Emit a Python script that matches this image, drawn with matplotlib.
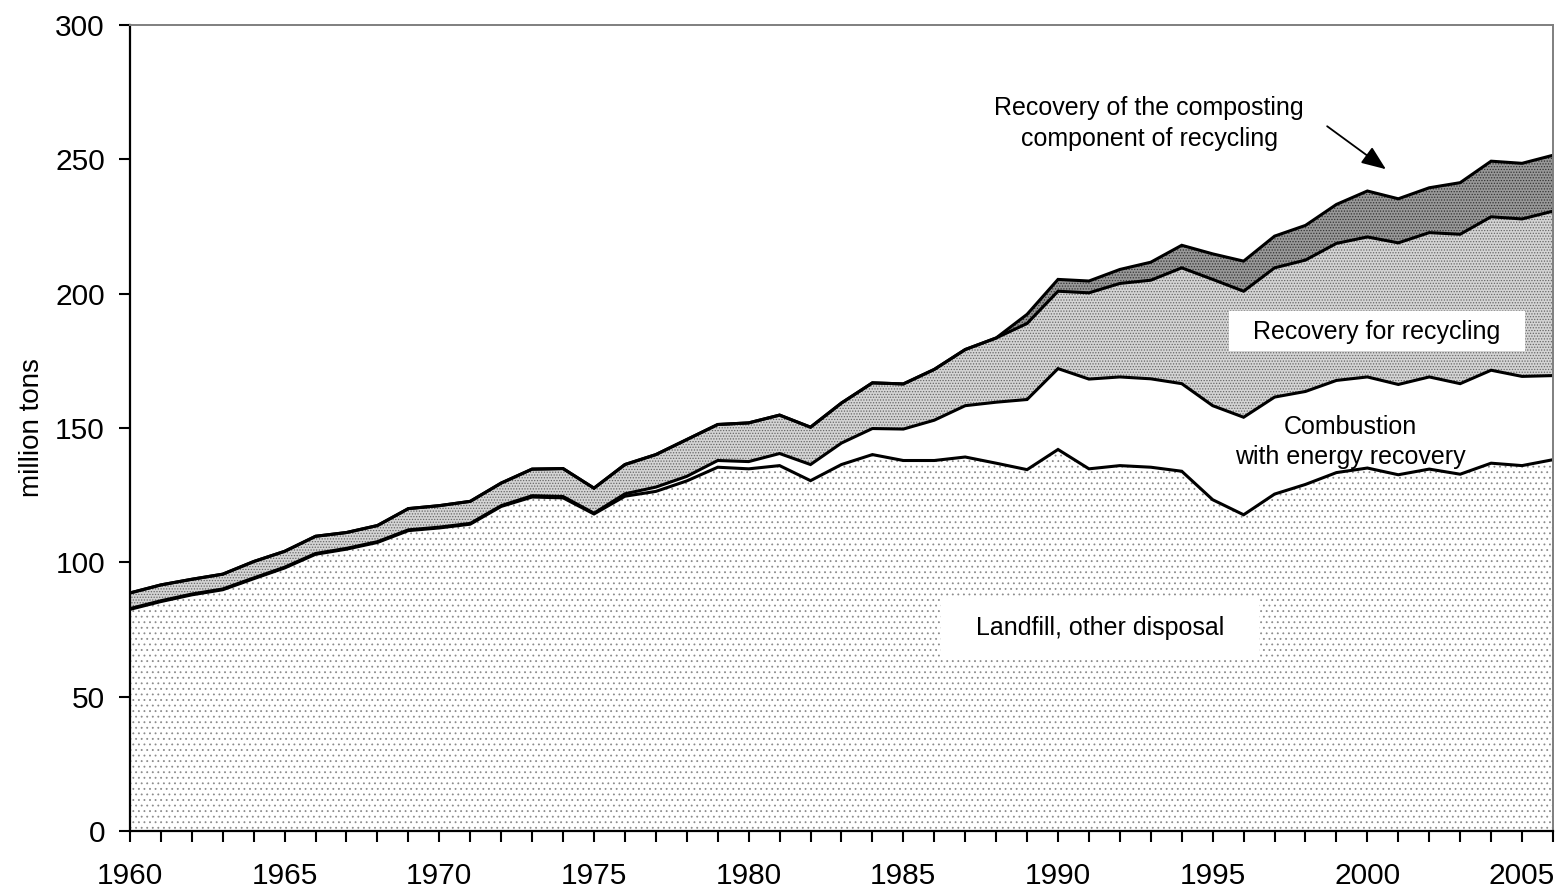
import numpy as np
import matplotlib
matplotlib.use('Agg')
import matplotlib.pyplot as plt
from matplotlib.patches import Rectangle

plt.rcParams['font.family'] = ['Liberation Sans', 'DejaVu Sans']
plt.rcParams['hatch.linewidth'] = 0.6

years = np.arange(1960, 2007)

# million tons per component
landfill = [82.5, 85.4, 87.9, 89.8, 93.9, 97.9, 103.0, 104.9, 107.4, 111.8,
            112.8, 114.2, 120.8, 124.3, 124.0, 118.0, 124.6, 126.4, 130.3, 135.4,
            134.8, 136.0, 130.4, 136.4, 140.1, 137.9, 137.9, 139.2, 136.9, 134.5,
            142.0, 134.8, 136.0, 135.4, 133.9, 123.3, 117.7, 125.4, 129.0, 133.4,
            135.1, 132.6, 134.7, 132.8, 136.9, 136.0, 138.2]
combustion = [0.3, 0.3, 0.3, 0.3, 0.3, 0.3, 0.3, 0.3, 0.3, 0.3,
              0.3, 0.3, 0.3, 0.5, 0.5, 0.3, 0.9, 1.6, 1.7, 2.5,
              2.7, 4.5, 6.0, 8.0, 9.7, 11.7, 15.0, 19.1, 22.7, 26.1,
              30.1, 33.4, 33.0, 32.9, 32.6, 35.0, 36.3, 36.1, 34.6, 34.3,
              33.9, 33.6, 34.3, 33.7, 34.6, 33.2, 31.3]
recycling = [5.8, 5.9, 5.5, 5.5, 6.1, 5.9, 6.4, 5.9, 6.0, 7.9,
             8.0, 8.2, 8.4, 9.9, 10.4, 9.3, 10.9, 12.1, 13.7, 13.4,
             14.4, 14.3, 13.9, 14.9, 17.0, 16.8, 18.9, 20.9, 23.9, 28.3,
             28.8, 32.1, 34.8, 36.7, 43.1, 47.0, 46.9, 48.1, 48.9, 51.0,
             52.1, 52.7, 53.7, 55.6, 57.1, 58.6, 61.2]
composting = [0] * 29 + [3.4, 4.4, 4.4, 5.2, 6.7, 8.4, 9.5, 11.2, 11.8, 12.9,
                         14.5, 17.1, 16.4, 16.7, 19.2, 20.7, 20.7, 20.8]

layers = [landfill, combustion, recycling, composting]
faces = ['white', 'white', '#d4d4d4', '#989898']
hatches = ['...', None, '......', '......']
hcolors = ['#8c8c8c', 'white', '#666666', '#333333']

fig = plt.figure(figsize=(15.6, 8.91), dpi=100)
ax = fig.add_axes([0.0833, 0.0673, 0.9122, 0.9047])

bottom = np.zeros(len(years))
for vals, fc, h, hc in zip(layers, faces, hatches, hcolors):
    top = bottom + np.array(vals)
    ax.fill_between(years, bottom, top, facecolor=fc, hatch=h, edgecolor=hc, linewidth=0)
    bottom = top

bottom = np.zeros(len(years))
for vals in layers:
    bottom = bottom + np.array(vals)
    ax.plot(years, bottom, color='black', lw=2.2, solid_joinstyle='miter')

ax.set_xlim(1960, 2006)
ax.set_ylim(0, 300)
ax.set_yticks(np.arange(0, 301, 50))
ax.set_xticks(years)
ax.set_xticklabels([str(y) if y % 5 == 0 else '' for y in years])
ax.tick_params(axis='both', direction='out', labelsize=21.5, width=1.5, color='black')
ax.tick_params(axis='x', length=8, pad=14)
ax.tick_params(axis='y', length=8, pad=10)
ax.set_ylabel('million tons', fontsize=20, labelpad=7)

for s in ['left', 'bottom']:
    ax.spines[s].set_linewidth(1.6)
    ax.spines[s].set_color('black')
for s in ['top', 'right']:
    ax.spines[s].set_linewidth(1.4)
    ax.spines[s].set_color('#7f7f7f')

# white label boxes
ax.add_patch(Rectangle((1995.53, 178.5), 9.56, 15.2, facecolor='white',
                       edgecolor='none', zorder=3))
ax.add_patch(Rectangle((1986.23, 63.7), 10.27, 23.5, facecolor='white',
                       edgecolor='none', zorder=3))

ax.text(2000.3, 185.9, 'Recovery for recycling', fontsize=18, ha='center',
        va='center', zorder=4)
ax.text(1991.35, 75.4, 'Landfill, other disposal', fontsize=18, ha='center',
        va='center', zorder=4)
ax.text(1999.45, 144.8, 'Combustion\nwith energy recovery', fontsize=18, ha='center',
        va='center', linespacing=1.35, zorder=4)
ax.text(1992.95, 263.4, 'Recovery of the composting\ncomponent of recycling',
        fontsize=18, ha='center', va='center', linespacing=1.35, zorder=4)
ax.annotate('', xy=(2000.6, 246.3), xytext=(1998.7, 262.3),
            arrowprops=dict(arrowstyle='-|>,head_length=1.5,head_width=0.6',
                            color='black', lw=1.3, shrinkA=0, shrinkB=0))

fig.savefig('out.png', dpi=100)
